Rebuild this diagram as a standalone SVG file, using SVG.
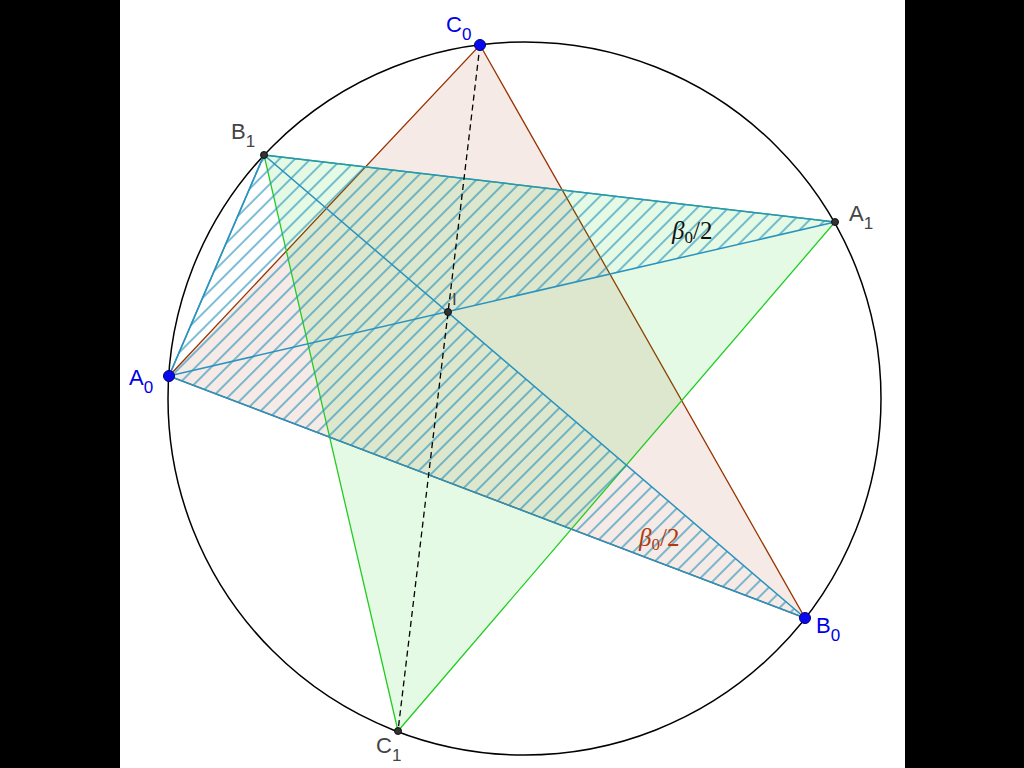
<svg xmlns="http://www.w3.org/2000/svg" width="1024" height="768" viewBox="0 0 1024 768">
<style>
.lbl{font-family:"Liberation Sans",Arial,sans-serif;font-size:22px}
.sub{font-size:17px}
.blue{fill:#0000e6}
.gray{fill:#444}
.beta{font-family:"Liberation Serif","DejaVu Serif",serif;font-size:25px}
.ptb{fill:#0a0aee;stroke:#00007a;stroke-width:1}
.ptg{fill:#333;stroke:#111;stroke-width:1}
.cy{fill:none;stroke:#2a93bf;stroke-width:1.5}
</style>
<defs>
<pattern id="hatch" width="11" height="11" patternUnits="userSpaceOnUse" patternTransform="rotate(45)">
<line x1="2" y1="-1" x2="2" y2="12" stroke="#2692bd" stroke-width="1.2"/>
</pattern>
</defs>
<rect x="0" y="0" width="1024" height="768" fill="#000"/>
<rect x="120" y="0" width="785" height="768" fill="#fff"/>
<g id="circle">
<circle cx="524.5" cy="398.5" r="356.5" fill="none" stroke="#000" stroke-width="1.5"/>
</g>
<g id="connectors">
<polygon id="triC0" points="169,376 480,45 805,618" fill="#993300" fill-opacity="0.1" stroke="#993300" stroke-width="1.3"/>
<polygon id="triC1" points="264,155 835,222 398,731" fill="#00cc00" fill-opacity="0.1" stroke="#22cc22" stroke-width="1.3"/>
<polygon id="hatchUnion" points="169,376 264,155 835,222 448,312 805,618" fill="url(#hatch)" stroke="none"/>
<polygon class="cy" points="169,376 264,155 835,222"/>
<polygon class="cy" points="169,376 264,155 805,618"/>
<line x1="480" y1="45" x2="398" y2="731" stroke="#000" stroke-width="1.3" stroke-dasharray="6,4"/>
</g>
<g id="labels-angle">
<text class="beta" x="672" y="239" fill="#111"><tspan font-style="italic">β</tspan><tspan font-size="17" dy="4">0</tspan><tspan dy="-4">/2</tspan></text>
<text class="beta" x="639" y="546" fill="#b03a10"><tspan font-style="italic">β</tspan><tspan font-size="17" dy="4">0</tspan><tspan dy="-4">/2</tspan></text>
</g>
<g id="node-C0"><circle class="ptb" cx="480" cy="45" r="5.5"/><text class="lbl blue" x="446" y="32">C<tspan class="sub" dy="8">0</tspan></text></g>
<g id="node-A0"><circle class="ptb" cx="169" cy="376" r="5.5"/><text class="lbl blue" x="129" y="385">A<tspan class="sub" dy="8">0</tspan></text></g>
<g id="node-B0"><circle class="ptb" cx="805" cy="618" r="5.5"/><text class="lbl blue" x="816" y="633">B<tspan class="sub" dy="8">0</tspan></text></g>
<g id="node-B1"><circle class="ptg" cx="264" cy="155" r="3.5"/><text class="lbl gray" x="231" y="139">B<tspan class="sub" dy="8">1</tspan></text></g>
<g id="node-A1"><circle class="ptg" cx="835" cy="222" r="3.5"/><text class="lbl gray" x="849" y="221">A<tspan class="sub" dy="8">1</tspan></text></g>
<g id="node-C1"><circle class="ptg" cx="398" cy="731" r="3.5"/><text class="lbl gray" x="376" y="753">C<tspan class="sub" dy="8">1</tspan></text></g>
<g id="node-I"><circle class="ptg" cx="448" cy="312" r="3.5"/><text class="gray" x="452" y="305" font-family="Liberation Sans, Arial, sans-serif" font-size="17">I</text></g>
</svg>
